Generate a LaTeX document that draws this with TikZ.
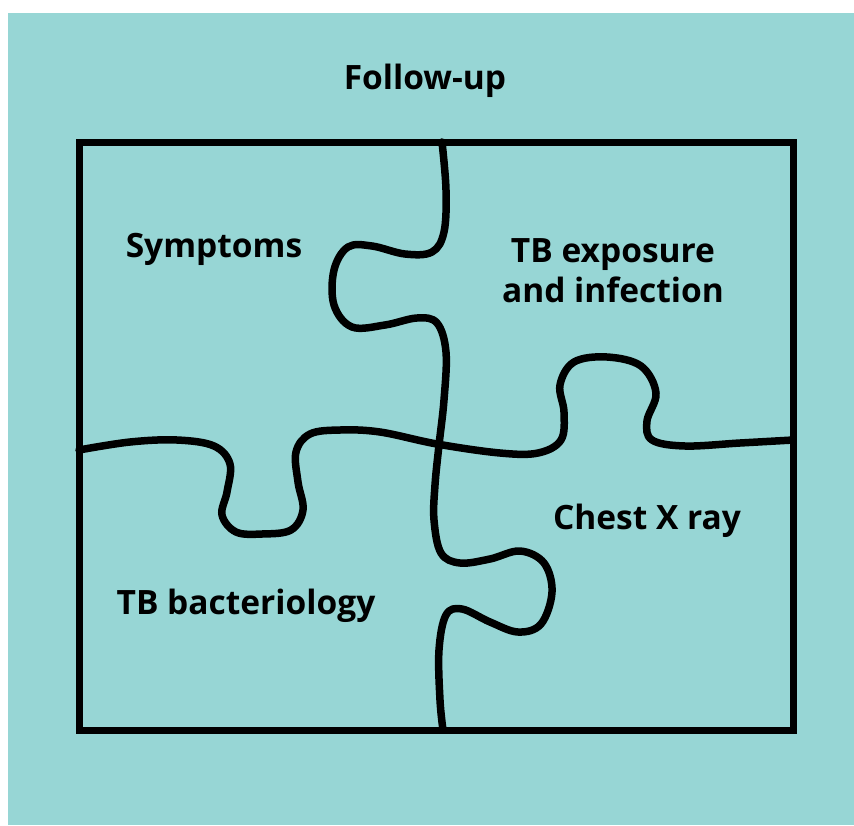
\documentclass[tikz,border=0pt]{standalone}
\usepackage{fontspec}
\setmainfont{Open Sans}
\definecolor{teal}{RGB}{151,214,213}
\begin{document}
\begin{tikzpicture}[x=1pt,y=-1pt,
  edge/.style={line width=7.5pt,line join=round,line cap=round},
  lbl/.style={font=\fontsize{33.5}{40}\selectfont\bfseries,align=center,inner sep=0pt}]
\useasboundingbox (0,0) rectangle (854,825);
\fill[white] (0,0) rectangle (854,825);
\fill[teal] (8,13) rectangle (854,825);
\draw[line width=7pt] (79,142) rectangle (793,730);
% vertical cut
\draw[edge] plot[smooth,tension=0.6] coordinates {(442,142) (446,190) (444,232) (432,252) (405,254) (372,246) (348,247) (334,270) (334,305) (352,327) (385,325) (417,318) (437,323) (446,352) (444,400) (439,445) (435,485) (434,520) (441,553) (460,563) (490,559) (520,551) (544,563) (552,592) (541,624) (518,632) (490,622) (462,609) (446,615) (439,650) (440,700) (443,730)};
% horizontal cut
\draw[edge] plot[smooth,tension=0.6] coordinates {(79,450) (130,442) (177,440) (214,446) (230,464) (227,492) (222,515) (236,532) (262,534) (291,530) (303,510) (298,482) (296,452) (310,434) (340,430) (380,432) (437,444) (500,453) (538,453) (561,440) (564,412) (560,385) (574,362) (607,357) (641,366) (656,393) (647,421) (652,440) (685,446) (740,443) (793,440)};
\node[lbl] (t0) at (425,81) {Follow-up};
\node[lbl] (t1) at (214,249) {Symptoms};
\node[lbl] (t2) at (613,271) {TB exposure\\and infection};
\node[lbl] (t3) at (647,521) {Chest X ray};
\node[lbl] (t4) at (246,606) {TB bacteriology};
\end{tikzpicture}
\end{document}
